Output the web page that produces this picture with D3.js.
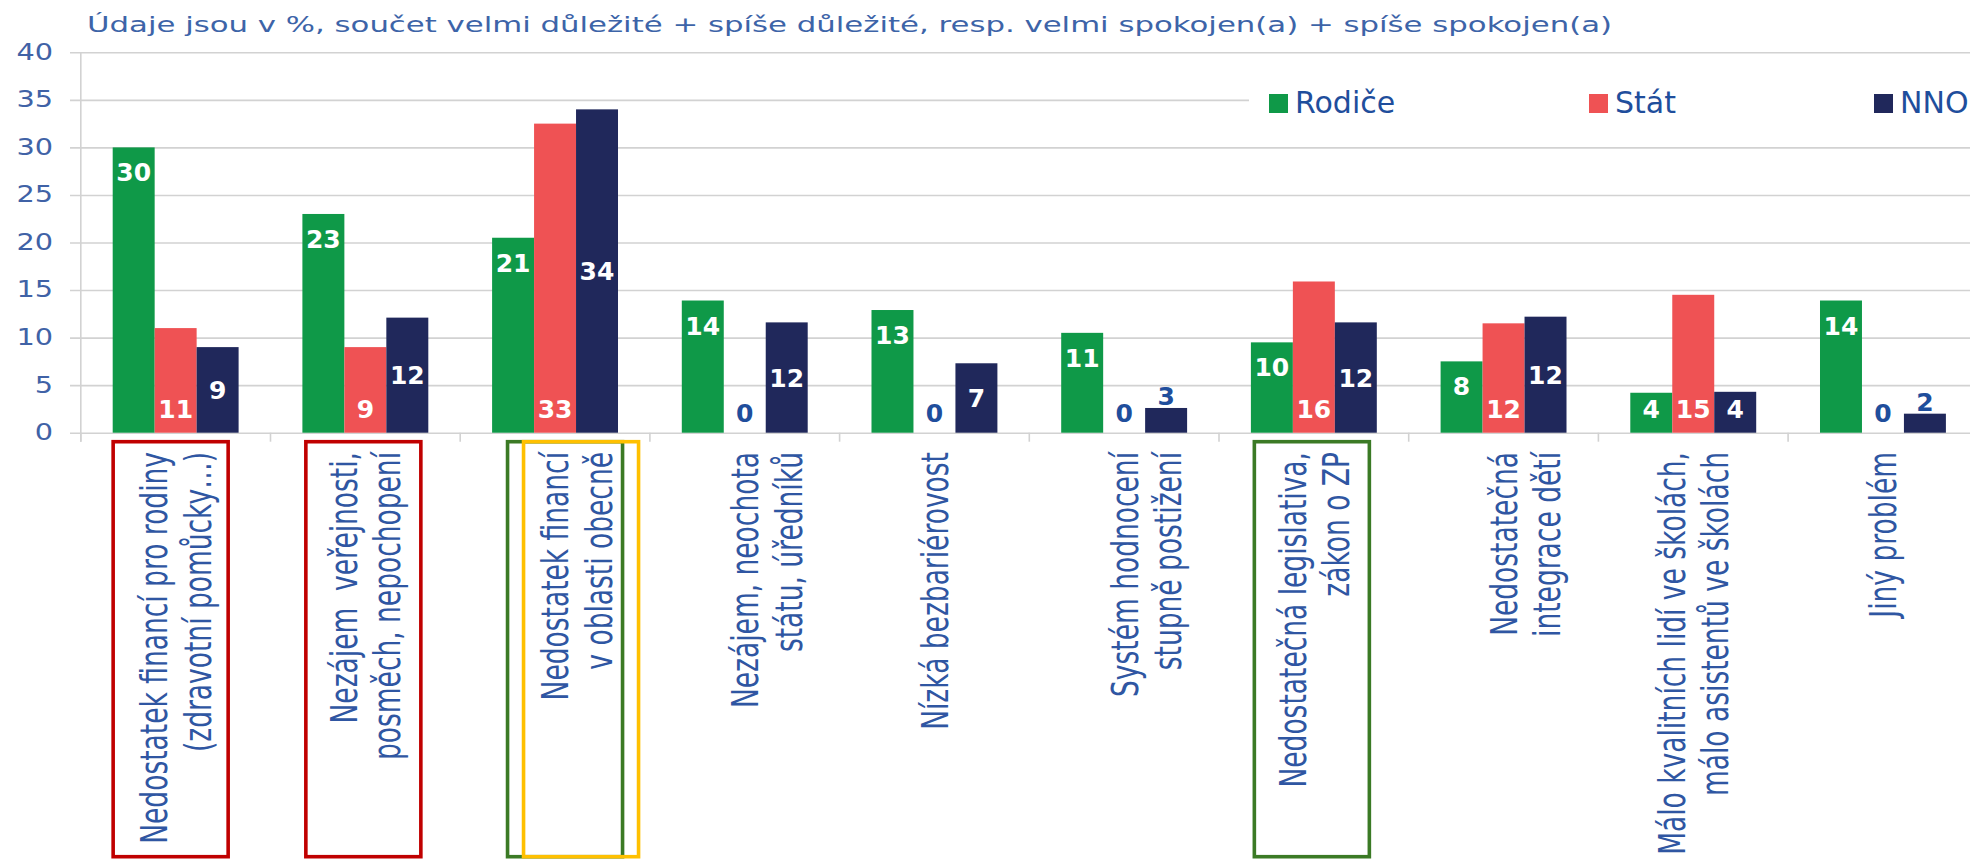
<!DOCTYPE html>
<html>
<head>
<meta charset="utf-8">
<script src="https://cdn.jsdelivr.net/npm/d3@7"></script>
<style>
  body { margin: 0; background: #fff; }
  svg { display: block; font-family: "DejaVu Sans", sans-serif; }
</style>
</head>
<body>
<div id="chart"></div>
<script>
// ---- data ----
// a leading "\n" means the label has an empty first line (it sits half a line lower)
var categories = [
  "Nedostatek financí pro rodiny\n(zdravotní pomůcky…)",
  "Nezájem  veřejnosti,\nposměch, nepochopení",
  "\nNedostatek financí\nv oblasti obecně",
  "\nNezájem, neochota\nstátu, úředníků",
  "Nízká bezbariérovost",
  "\nSystém hodnocení\nstupně postižení",
  "Nedostatečná legislativa,\nzákon o ZP",
  "\nNedostatečná\nintegrace dětí",
  "Málo kvalitních lidí ve školách,\nmálo asistentů ve školách",
  "Jiný problém"
];
var seriesNames = ["Rodiče", "Stát", "NNO"];
var rodice = [30, 23, 20.5, 13.9, 12.9, 10.5, 9.5, 7.5, 4.2, 13.9];
var stat   = [11, 9, 32.5, 0, 0, 0, 15.9, 11.5, 14.5, 0];
var nno    = [9, 12.1, 34, 11.6, 7.3, 2.6, 11.6, 12.2, 4.3, 2];
var yTicks = [0, 5, 10, 15, 20, 25, 30, 35, 40];
var titleText = "Údaje jsou v %, součet velmi důležité + spíše důležité, resp. velmi spokojen(a) + spíše spokojen(a)";

// highlighted category labels (boxes drawn round them)
var highlightCats  = [0, 1, 2, 2, 6];
var highlightKinds = ["red", "red", "green", "yellow", "green"];

// ---- layout ----
var W = 1970, H = 860;
var x0 = 80.8, step = 189.7;
var colors = { "Rodiče": "#0f9948", "Stát": "#ef5254", "NNO": "#20285b" };
var boxColors = { red: "#c00000", green: "#3b7a25", yellow: "#ffc000" };
var blueText = "#1f4e9c";

var svg = d3.select("#chart").append("svg")
    .attr("width", W).attr("height", H);

var x = d3.scaleBand()
    .domain(d3.range(categories.length))
    .range([x0, x0 + step * categories.length])
    .paddingInner(0).paddingOuter(0);

var xs = d3.scaleBand()
    .domain(seriesNames)
    .range([0, x.bandwidth()])
    .paddingInner(0).paddingOuter(0.76);

var y = d3.scaleLinear().domain([0, 40]).range([432.7, 52.3]);

// title
svg.append("text")
    .attr("x", 87).attr("y", 32)
    .attr("font-size", 22)
    .attr("fill", "#3d64a8")
    .attr("textLength", 1525)
    .attr("lengthAdjust", "spacingAndGlyphs")
    .text(titleText);

// gridlines + y tick labels
var tsx = 1.25;
var yAxis = svg.append("g")
    .attr("transform", "translate(70,0)")
    .call(d3.axisLeft(y).tickValues(yTicks).tickSize(-(W - 70)).tickPadding(17 / tsx));
yAxis.select(".domain").remove();
yAxis.selectAll(".tick line").attr("stroke", "#d2d2d2").attr("stroke-width", 1.6);
yAxis.selectAll(".tick text")
    .attr("font-size", 23)
    .attr("font-family", "DejaVu Sans, sans-serif")
    .attr("fill", "#4062a6")
    .attr("transform", "scale(" + tsx + ",1)")
    .attr("dy", "0.3em");

// y axis line
svg.append("line")
    .attr("x1", x0).attr("x2", x0)
    .attr("y1", y(40)).attr("y2", y(0) + 9)
    .attr("stroke", "#d2d2d2").attr("stroke-width", 1.6);

// category boundary ticks
svg.selectAll(".xtick")
    .data(d3.range(categories.length + 1))
    .enter().append("line")
    .attr("x1", function(i) { return i < categories.length ? x(i) : x(i - 1) + x.bandwidth(); })
    .attr("x2", function(i) { return i < categories.length ? x(i) : x(i - 1) + x.bandwidth(); })
    .attr("y1", y(0)).attr("y2", y(0) + 9)
    .attr("stroke", "#d2d2d2").attr("stroke-width", 1.6);

// legend (white box hides the gridline behind it)
svg.append("rect")
    .attr("x", 1249).attr("y", 78).attr("width", W - 1249).attr("height", 48)
    .attr("fill", "#fff");
var legendX = [1269, 1589, 1874];
seriesNames.forEach(function(name, i) {
  svg.append("rect")
      .attr("x", legendX[i]).attr("y", 94).attr("width", 19).attr("height", 19)
      .attr("fill", colors[name]);
  svg.append("text")
      .attr("x", legendX[i] + 26).attr("y", 113)
      .attr("font-size", 30)
      .attr("fill", blueText)
      .text(name);
});

// bars
var rows = categories.map(function(c, i) {
  return [
    { cat: i, s: "Rodiče", v: rodice[i] },
    { cat: i, s: "Stát", v: stat[i] },
    { cat: i, s: "NNO", v: nno[i] }
  ];
});

var groups = svg.selectAll(".grp")
    .data(rows)
    .enter().append("g")
    .attr("transform", function(d, i) { return "translate(" + x(i) + ",0)"; });

groups.selectAll("rect")
    .data(function(d) { return d; })
    .enter().append("rect")
    .attr("x", function(d) { return xs(d.s); })
    .attr("y", function(d) { return y(d.v); })
    .attr("width", xs.bandwidth())
    .attr("height", function(d) { return y(0) - y(d.v); })
    .attr("fill", function(d) { return colors[d.s]; });

// data labels
function labelCenter(d) {
  if (d.v === 0) return y(0) - 20;
  if (d.s === "Rodiče") return Math.min(y(d.v) + 25, y(0) - 23.5);
  if (d.s === "Stát") return y(0) - 23.5;
  if (d.v < 3.5) return y(d.v) - 12;
  return Math.min((y(d.v) + y(0)) / 2, y(0) - 23.5);
}
groups.selectAll("text.val")
    .data(function(d) { return d; })
    .enter().append("text")
    .attr("class", "val")
    .attr("x", function(d) { return xs(d.s) + xs.bandwidth() / 2; })
    .attr("y", labelCenter)
    .attr("dy", "0.36em")
    .attr("text-anchor", "middle")
    .attr("font-size", 25)
    .attr("font-weight", "bold")
    .attr("fill", function(d) { return (d.v === 0 || (d.s === "NNO" && d.v < 3.5)) ? blueText : "#fff"; })
    .text(function(d) { return Math.round(d.v); });

// category labels, rotated, centred on the band
var sx = 1.38, capH = 26.8, lineGap = 43.5;
categories.forEach(function(c, i) {
  var lines = c.split("\n");
  var cx = x(i) + x.bandwidth() / 2;
  var t = svg.append("g")
      .attr("transform", "translate(" + cx + ",452)")
    .append("text")
      .attr("transform", "scale(" + sx + ",1) rotate(-90)")
      .attr("text-anchor", "end")
      .attr("font-size", 26.5)
      .attr("fill", "#2f56a2");
  lines.forEach(function(line, k) {
    if (!line) return;
    var off = capH / 2 + (k - (lines.length - 1) / 2) * lineGap;
    t.append("tspan")
        .attr("x", 0)
        .attr("y", off / sx)
        .attr("xml:space", "preserve")
        .style("white-space", "pre")
        .text(line);
  });
});

// highlight boxes round chosen labels
var boxNudge = [-5, -2, 10, 26, -2];
highlightCats.forEach(function(ci, k) {
  var cx = x(ci) + x.bandwidth() / 2 + boxNudge[k];
  svg.append("rect")
      .attr("x", cx - 57.5).attr("y", 441.7)
      .attr("width", 115).attr("height", 415)
      .attr("fill", "none")
      .attr("stroke", boxColors[highlightKinds[k]])
      .attr("stroke-width", 3.6);
});
</script>
</body>
</html>
